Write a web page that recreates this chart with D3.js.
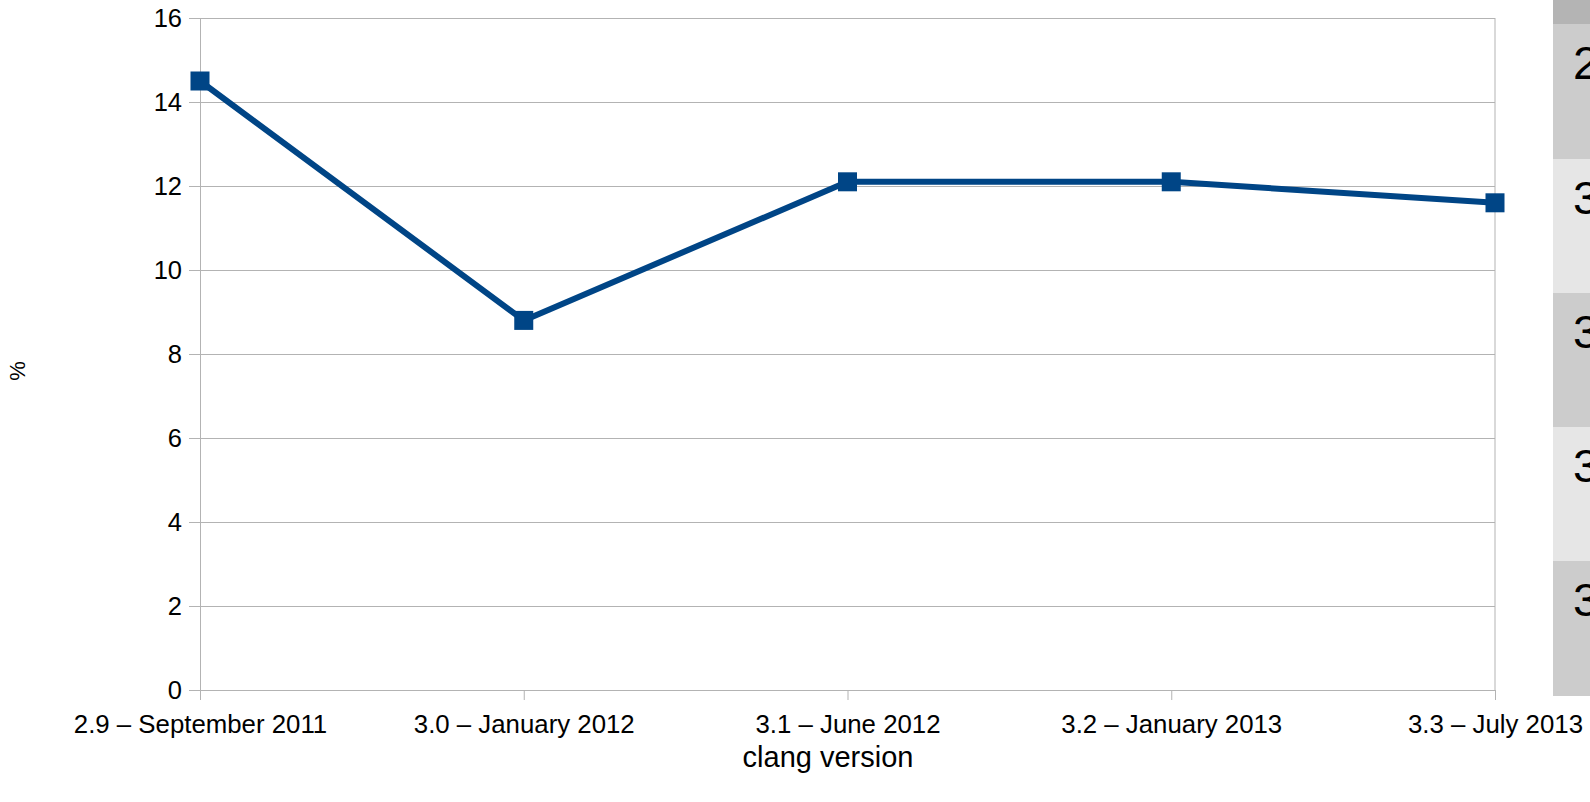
<!DOCTYPE html>
<html>
<head>
<meta charset="utf-8">
<script src="https://cdn.jsdelivr.net/npm/d3@7"></script>
<style>
  body { margin: 0; background: #ffffff; }
  text { font-family: "Liberation Sans", Arial, sans-serif; fill: #000000; }
</style>
</head>
<body>
<script>
'use strict';

// chart values
const versions = ["2.9 – September 2011", "3.0 – January 2012", "3.1 – June 2012", "3.2 – January 2013", "3.3 – July 2013"];
const percents = [14.5, 8.8, 12.1, 12.1, 11.6];
const yTicks = [0, 2, 4, 6, 8, 10, 12, 14, 16];
// row header cells cut off at the right edge
const rowLabels = ["", "2.9", "3.0", "3.1", "3.2", "3.3"];
const rowHeights = [24, 135, 134, 134, 134, 135];

let svgContainer = "";
const lineColor = "#004586";
const gridColor = "#b3b3b3";

window.onload = function () {
  svgContainer = d3.select('body')
    .append('svg')
    .attr('width', 1590)
    .attr('height', 802);

  const map = drawAxes();
  plotData(map);
  makeLabels();
  drawRowHeaders();
};

function drawAxes() {
  let xScale = d3.scalePoint()
    .domain(versions)
    .range([200, 1495])
    .padding(0);

  let yScale = d3.scaleLinear()
    .domain([0, 16])
    .range([690, 18]);

  // horizontal grid
  let grid = svgContainer.append('g')
    .attr('transform', 'translate(200, 0)')
    .call(d3.axisLeft(yScale).tickValues(yTicks).tickSize(-1295).tickFormat(''));
  grid.select('.domain').remove();
  grid.selectAll('line').attr('stroke', gridColor);

  // plot frame right side
  svgContainer.append('line')
    .attr('x1', 1495).attr('x2', 1495)
    .attr('y1', yScale(16)).attr('y2', yScale(0))
    .attr('stroke', gridColor);

  let yAxis = svgContainer.append('g')
    .attr('transform', 'translate(200, 0)')
    .call(d3.axisLeft(yScale).tickValues(yTicks).tickSize(11).tickPadding(7));
  yAxis.select('.domain').attr('stroke', gridColor).attr('d', 'M0.5,' + yScale(16) + 'V' + yScale(0));
  yAxis.selectAll('line').attr('stroke', gridColor);
  yAxis.selectAll('text')
    .style('font-size', '25.5px')
    .style('font-family', '"Liberation Sans", Arial, sans-serif')
    .attr('fill', '#000');

  let xAxis = svgContainer.append('g')
    .attr('transform', 'translate(0, 690)')
    .call(d3.axisBottom(xScale).tickSize(10).tickPadding(15));
  xAxis.select('.domain').attr('stroke', gridColor).attr('d', 'M200,0.5H1495');
  xAxis.selectAll('line').attr('stroke', gridColor);
  xAxis.selectAll('text')
    .style('font-size', '25.8px')
    .style('font-family', '"Liberation Sans", Arial, sans-serif')
    .attr('fill', '#000');

  return { x: xScale, y: yScale };
}

function plotData(map) {
  let rows = versions.map((v, i) => ({ version: v, value: percents[i] }));

  let line = d3.line()
    .x((d) => map.x(d.version))
    .y((d) => map.y(d.value));

  svgContainer.append('path')
    .datum(rows)
    .attr('d', line)
    .attr('fill', 'none')
    .attr('stroke', lineColor)
    .attr('stroke-width', 6)
    .attr('stroke-linejoin', 'round');

  let size = 19;
  svgContainer.selectAll('.marker')
    .data(rows)
    .enter()
    .append('rect')
    .attr('class', 'marker')
    .attr('x', (d) => map.x(d.version) - size / 2)
    .attr('y', (d) => map.y(d.value) - size / 2)
    .attr('width', size)
    .attr('height', size)
    .attr('fill', lineColor);
}

function makeLabels() {
  svgContainer.append('text')
    .attr('x', 828)
    .attr('y', 767)
    .attr('text-anchor', 'middle')
    .style('font-size', '29px')
    .text('clang version');

  svgContainer.append('text')
    .attr('transform', 'translate(25, 371)rotate(-90)')
    .attr('text-anchor', 'middle')
    .style('font-size', '22px')
    .text('%');
}

function drawRowHeaders() {
  let top = 0;
  rowLabels.forEach((label, i) => {
    let fill = i == 0 ? "#b4b4b4" : (i % 2 == 1 ? "#cccccc" : "#e6e6e6");
    svgContainer.append('rect')
      .attr('x', 1553)
      .attr('y', top)
      .attr('width', 37)
      .attr('height', rowHeights[i])
      .attr('fill', fill);
    if (label != "") {
      svgContainer.append('text')
        .attr('x', 1573)
        .attr('y', top + 55)
        .style('font-size', '47px')
        .text(label);
    }
    top += rowHeights[i];
  });
}
</script>
</body>
</html>
